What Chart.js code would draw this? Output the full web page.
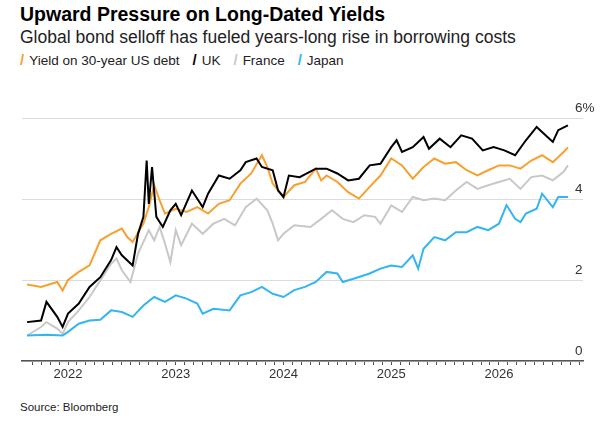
<!DOCTYPE html>
<html><head><meta charset="utf-8">
<script src="https://cdn.jsdelivr.net/npm/chart.js@4"></script>
<style>
body{margin:0;width:600px;height:430px;background:#fff;font-family:"Liberation Sans",Arial,sans-serif;position:relative;overflow:hidden}
#t{position:absolute;left:20px;top:3px;font-size:19.5px;font-weight:bold;color:#000}
#s{position:absolute;left:20px;top:27px;font-size:17.5px;color:#222}
#l{position:absolute;left:20px;top:51px;font-size:13.5px;color:#222;white-space:nowrap}
#l span{margin-right:13px}
#l b{font-weight:bold;margin-right:5px;font-size:15px}
#src{position:absolute;left:20px;top:401px;font-size:11.5px;color:#222}
canvas{position:absolute;left:0;top:0}
</style></head><body>
<div id="t">Upward Pressure on Long-Dated Yields</div>
<div id="s">Global bond selloff has fueled years-long rise in borrowing costs</div>
<div id="l"><span><b style="color:#f7a030">/</b>Yield on 30-year US debt</span><span><b style="color:#000">/</b>UK</span><span><b style="color:#c8c8c8">/</b>France</span><span><b style="color:#33b5f0">/</b>Japan</span></div>
<div id="src">Source: Bloomberg</div>
<canvas id="c" width="600" height="430"></canvas>
<script>
const seriesNames=["Yield on 30-year US debt","UK","France","Japan"];
const yTicks=[0,2,4,6];
const usX=[2021.62,2021.75,2021.9,2021.95,2022.0,2022.1,2022.2,2022.3,2022.4,2022.5,2022.55,2022.6,2022.7,2022.75,2022.8,2022.85,2022.9,2023.0,2023.1,2023.2,2023.3,2023.4,2023.5,2023.6,2023.7,2023.8,2023.85,2023.9,2023.95,2024.0,2024.1,2024.2,2024.3,2024.35,2024.4,2024.5,2024.6,2024.7,2024.8,2024.9,2025.0,2025.1,2025.2,2025.3,2025.4,2025.5,2025.6,2025.7,2025.8,2025.9,2026.0,2026.1,2026.2,2026.3,2026.4,2026.5,2026.6,2026.64];
const usY=[1.89,1.83,1.95,1.74,2.0,2.2,2.36,2.98,3.14,3.27,3.06,2.94,3.39,3.8,4.34,3.97,3.64,3.76,3.68,3.8,3.64,3.88,3.97,4.38,4.63,5.08,4.79,4.38,4.21,4.05,4.34,4.42,4.75,4.46,4.58,4.42,4.17,4.01,4.3,4.58,5.0,4.83,4.5,4.79,5.0,4.87,4.91,4.71,4.58,4.71,4.83,4.83,4.75,4.95,5.08,4.91,5.16,5.27];
const ukX=[2021.62,2021.75,2021.8,2021.9,2021.95,2022.0,2022.1,2022.2,2022.3,2022.4,2022.45,2022.5,2022.6,2022.65,2022.7,2022.73,2022.75,2022.78,2022.82,2022.88,2022.95,2023.0,2023.05,2023.15,2023.25,2023.3,2023.4,2023.5,2023.6,2023.65,2023.75,2023.8,2023.9,2023.95,2024.0,2024.05,2024.15,2024.3,2024.4,2024.5,2024.6,2024.7,2024.8,2024.9,2025.0,2025.05,2025.1,2025.2,2025.3,2025.35,2025.45,2025.55,2025.65,2025.75,2025.85,2025.95,2026.05,2026.15,2026.25,2026.35,2026.45,2026.5,2026.55,2026.64];
const ukY=[0.96,1.0,1.46,1.09,0.84,1.17,1.42,1.83,2.07,2.49,2.81,2.61,2.36,3.14,3.56,4.95,3.88,4.79,3.56,3.31,3.72,3.88,3.6,4.21,3.8,4.13,4.58,4.5,4.71,4.91,5.0,4.79,4.71,4.21,4.05,4.58,4.54,4.75,4.75,4.63,4.46,4.5,4.83,4.87,5.28,5.45,5.16,5.28,5.53,5.24,5.49,5.28,5.57,5.49,5.2,5.28,5.2,5.08,5.45,5.78,5.53,5.41,5.7,5.82];
const frX=[2021.62,2021.75,2021.8,2021.9,2021.95,2022.0,2022.1,2022.2,2022.3,2022.4,2022.45,2022.5,2022.58,2022.65,2022.75,2022.8,2022.85,2022.9,2022.95,2023.0,2023.05,2023.15,2023.25,2023.35,2023.45,2023.55,2023.65,2023.75,2023.85,2023.9,2023.95,2024.0,2024.1,2024.25,2024.35,2024.45,2024.55,2024.65,2024.75,2024.85,2024.9,2025.0,2025.1,2025.2,2025.3,2025.4,2025.5,2025.6,2025.7,2025.8,2025.9,2026.0,2026.1,2026.2,2026.3,2026.4,2026.5,2026.6,2026.64];
const frY=[0.63,0.84,0.96,0.8,0.67,0.96,1.25,1.58,1.99,2.4,2.53,2.24,1.95,2.65,3.23,2.98,3.31,2.9,2.44,3.23,2.86,3.39,3.14,3.39,3.51,3.35,3.8,4.01,3.72,3.39,2.98,3.14,3.35,3.31,3.51,3.72,3.51,3.43,3.6,3.56,3.39,3.84,3.68,4.05,3.97,4.01,3.97,4.21,4.42,4.25,4.34,4.42,4.5,4.25,4.54,4.58,4.46,4.67,4.83];
const jpX=[2021.62,2021.8,2021.95,2022.0,2022.1,2022.2,2022.3,2022.4,2022.5,2022.6,2022.7,2022.8,2022.9,2023.0,2023.1,2023.2,2023.25,2023.35,2023.5,2023.6,2023.7,2023.8,2023.9,2024.0,2024.1,2024.2,2024.3,2024.4,2024.5,2024.55,2024.65,2024.8,2024.9,2025.0,2025.1,2025.2,2025.25,2025.3,2025.4,2025.5,2025.6,2025.7,2025.8,2025.9,2026.0,2026.07,2026.15,2026.2,2026.25,2026.35,2026.4,2026.5,2026.55,2026.64];
const jpY=[0.63,0.65,0.63,0.72,0.92,1.0,1.02,1.25,1.21,1.09,1.37,1.58,1.46,1.62,1.54,1.42,1.17,1.29,1.25,1.62,1.7,1.83,1.66,1.58,1.75,1.83,1.95,2.2,2.16,1.95,2.03,2.16,2.28,2.36,2.32,2.61,2.28,2.77,3.06,2.98,3.18,3.18,3.31,3.23,3.39,3.85,3.51,3.43,3.64,3.76,4.13,3.8,4.05,4.05];
const pts=(xs,ys)=>xs.map((x,i)=>({x,y:ys[i]}));
const monthTicks=[];for(let k=0;k<=61;k++){monthTicks.push({value:2021+8/12+k/12});}
const yLabels={id:'yl',afterDraw(ch){const c=ch.ctx,s=ch.scales.y;c.save();c.font='13.5px "Liberation Sans",Arial';c.fillStyle='#333';c.textAlign='left';c.textBaseline='alphabetic';yTicks.forEach(v=>{c.fillText(v===6?'6%':String(v),575,s.getPixelForValue(v)-6);});c.restore();}};
const ds=(lbl,xs,ys,col,ord)=>({label:lbl,data:pts(xs,ys),borderColor:col,borderWidth:2,pointRadius:0,tension:0,order:ord});
new Chart(document.getElementById('c'),{type:'line',
data:{datasets:[ds(seriesNames[0],usX,usY,'#f7a030',2),ds(seriesNames[1],ukX,ukY,'#000000',1),ds(seriesNames[2],frX,frY,'#c8c8c8',4),ds(seriesNames[3],jpX,jpY,'#33b5f0',3)]},
options:{responsive:false,animation:false,events:[],
layout:{padding:{left:22,right:17,top:118,bottom:44}},
plugins:{legend:{display:false},tooltip:{enabled:false}},
scales:{
x:{type:'linear',min:2021.573,max:2026.78,
afterBuildTicks:s=>{s.ticks=monthTicks.map(t=>({value:t.value}));},
afterFit:s=>{s.height=25;},
ticks:{autoSkip:false,maxRotation:0,font:{size:13,family:'"Liberation Sans",Arial'},color:'#333',padding:2,
callback:v=>Math.abs(v-Math.round(v))<1e-6?String(Math.round(v)):''},
grid:{drawOnChartArea:false,drawTicks:true,tickLength:4,color:'#555'},
border:{color:'#555',width:1.5}},
y:{min:0,max:6,afterBuildTicks:s=>{s.ticks=yTicks.map(v=>({value:v}));},
afterFit:s=>{s.width=0;},
ticks:{display:false},border:{display:false},
grid:{drawTicks:false,color:'#dcdcdc',lineWidth:1}}}},
plugins:[yLabels]});
</script></body></html>
